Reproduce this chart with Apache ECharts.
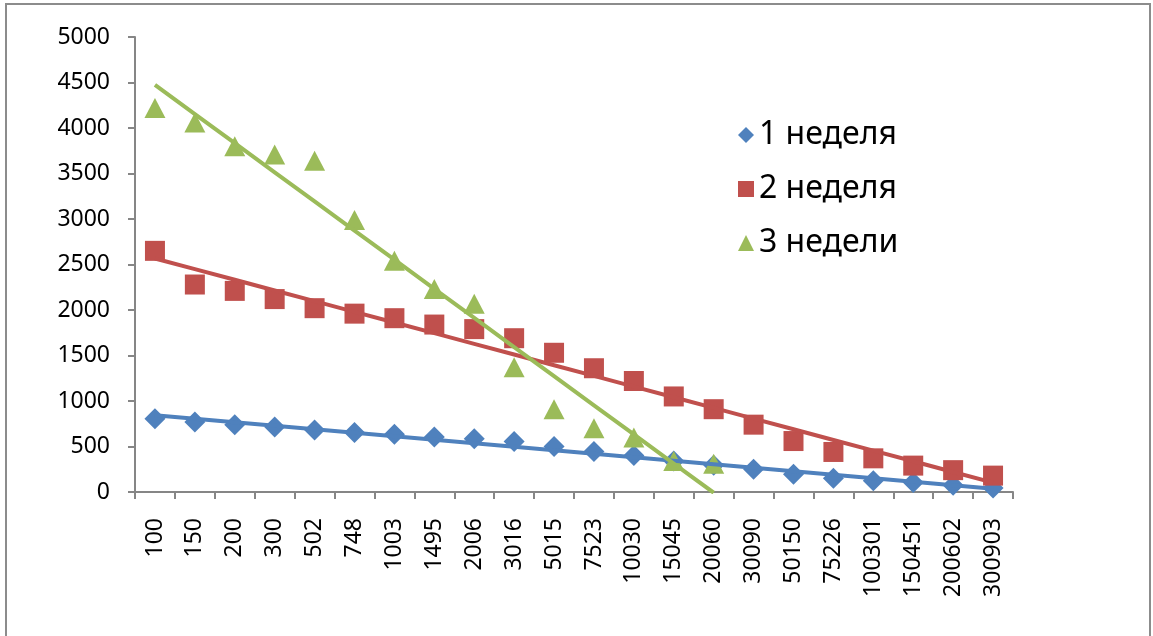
<!DOCTYPE html>
<html>
<head>
<meta charset="utf-8">
<script src="https://cdn.jsdelivr.net/npm/echarts@6/dist/echarts.min.js"></script>
<style>
  html, body { margin: 0; padding: 0; background: #fff; }
  #chart { width: 1153px; height: 636px; }
</style>
</head>
<body>
<div id="chart"></div>
<script>
// Category labels along the horizontal axis
const categories = ['100', '150', '200', '300', '502', '748', '1003', '1495', '2006', '3016',
  '5015', '7523', '10030', '15045', '20060', '30090', '50150', '75226', '100301', '150451',
  '200602', '300903'];

// Measured values per week
const week1 = [805, 770, 740, 715, 680, 655, 635, 605, 585, 555, 500, 445, 400, 340, 295,
  250, 195, 150, 125, 105, 75, 45];
const week2 = [2650, 2280, 2210, 2120, 2020, 1960, 1910, 1840, 1790, 1690, 1530, 1360, 1220,
  1050, 910, 740, 560, 440, 370, 290, 240, 180];
const week3 = [4220, 4060, 3800, 3710, 3640, 2990, 2540, 2230, 2070, 1370, 910, 700, 600,
  340, 310];

const seriesNames = ['1 неделя', '2 неделя', '3 недели'];
const yTicks = [0, 500, 1000, 1500, 2000, 2500, 3000, 3500, 4000, 4500, 5000];

const colors = ['#4F81BD', '#C0504D', '#9BBB59'];
const symbols = ['diamond', 'rect', 'triangle'];
const symbolSizes = [21, 20, [21, 20]];
const FONT = '"Noto Sans", "Open Sans", sans-serif';

// Least-squares linear trend over the point index
function linearTrend(values) {
  const n = values.length;
  let sx = 0, sy = 0, sxx = 0, sxy = 0;
  values.forEach((v, i) => { sx += i; sy += v; sxx += i * i; sxy += i * v; });
  const slope = (n * sxy - sx * sy) / (n * sxx - sx * sx);
  const icpt = (sy - slope * sx) / n;
  return values.map((_, i) => +(icpt + slope * i).toFixed(2));
}

const data = [week1, week2, week3];

const series = [];
data.forEach((vals, k) => {
  series.push({
    name: seriesNames[k],
    type: 'line',
    data: vals,
    symbol: symbols[k],
    symbolSize: symbolSizes[k],
    showAllSymbol: true,
    lineStyle: { width: 0, opacity: 0 },
    itemStyle: { color: colors[k] },
    z: 2,
    animation: false
  });
});
data.forEach((vals, k) => {
  series.push({
    name: seriesNames[k] + ' тренд',
    type: 'line',
    data: linearTrend(vals),
    symbol: 'none',
    lineStyle: { width: 4, color: colors[k] },
    itemStyle: { color: colors[k] },
    clip: true,
    z: 3,
    animation: false
  });
});

const chart = echarts.init(document.getElementById('chart'), null, { renderer: 'canvas' });
chart.setOption({
  animation: false,
  backgroundColor: '#fff',
  grid: { left: 135, right: 140, top: 37, bottom: 144, containLabel: false },
  legend: {
    data: seriesNames.map((n, k) => ({ name: n, icon: symbols[k] })),
    orient: 'vertical',
    left: 733,
    top: 114,
    itemWidth: 16,
    itemHeight: 16,
    itemGap: 22,
    textStyle: { fontFamily: FONT, fontSize: 32, color: '#000' },
    selectedMode: false
  },
  xAxis: {
    type: 'category',
    data: categories,
    boundaryGap: true,
    axisLine: { lineStyle: { color: '#868686', width: 2 } },
    axisTick: { show: true, length: 7, inside: false, alignWithLabel: false, lineStyle: { color: '#868686', width: 2 } },
    axisLabel: { rotate: 90, margin: 26, interval: 0, fontFamily: FONT, fontSize: 23, color: '#000' },
    splitLine: { show: false }
  },
  yAxis: {
    type: 'value',
    min: yTicks[0],
    max: yTicks[yTicks.length - 1],
    interval: yTicks[1] - yTicks[0],
    axisLine: { show: true, lineStyle: { color: '#868686', width: 2 } },
    axisTick: { show: true, length: 7, lineStyle: { color: '#868686', width: 2 } },
    axisLabel: { margin: 25, fontFamily: FONT, fontSize: 23, color: '#000', formatter: v => String(v) },
    splitLine: { show: false }
  },
  graphic: [{
    type: 'rect',
    shape: { x: 6, y: 4, width: 1144, height: 660 },
    style: { fill: 'none', stroke: '#8c8c8c', lineWidth: 2 },
    silent: true,
    z: -1
  }],
  series: series
});
</script>
</body>
</html>
